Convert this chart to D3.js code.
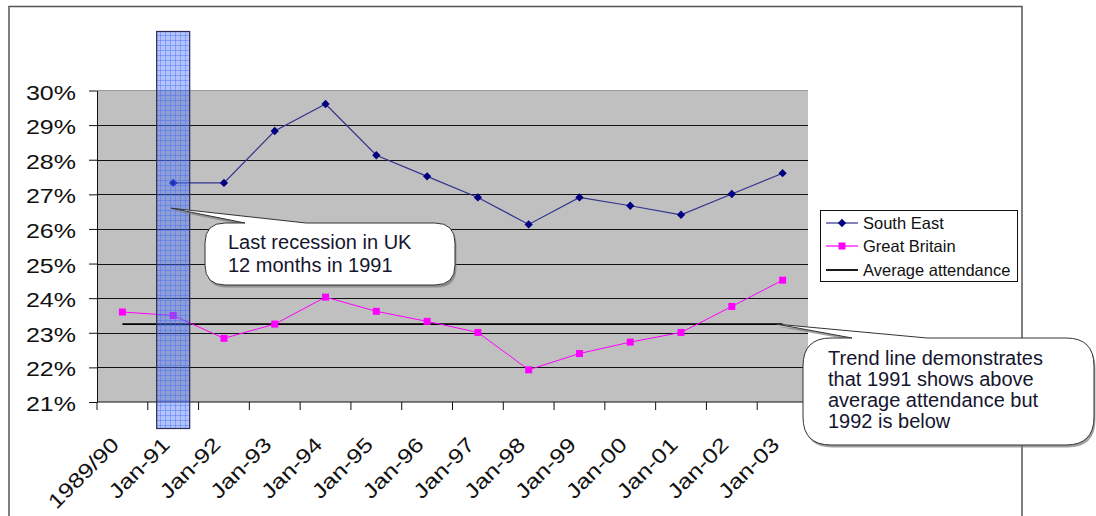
<!DOCTYPE html>
<html>
<head>
<meta charset="utf-8">
<script src="https://cdn.jsdelivr.net/npm/d3@7"></script>
<style>
  html, body { margin: 0; padding: 0; background: #fff; }
  svg { display: block; font-family: "Liberation Sans", Arial, sans-serif; }
</style>
</head>
<body>
<svg id="chart" width="1096" height="516"></svg>
<script>
// Category labels along the x axis
const categories = ["1989/90", "Jan-91", "Jan-92", "Jan-93", "Jan-94", "Jan-95", "Jan-96",
  "Jan-97", "Jan-98", "Jan-99", "Jan-00", "Jan-01", "Jan-02", "Jan-03"];

// Attendance share (%) per period
const southEast = [null, 27.33, 27.33, 28.83, 29.61, 28.13, 27.52, 26.91, 26.13, 26.91, 26.67, 26.41, 27.01, 27.61];
const greatBritain = [23.6, 23.5, 22.84, 23.25, 24.03, 23.62, 23.33, 23.01, 21.93, 22.4, 22.73, 23.01, 23.76, 24.52];
const averageAttendance = [23.25, 23.25, 23.25, 23.25, 23.25, 23.25, 23.25, 23.25, 23.25, 23.25, 23.25, 23.25, 23.25, 23.25];

// Value axis ticks
const yTicks = [21, 22, 23, 24, 25, 26, 27, 28, 29, 30];

// Recession period highlight
const recessionCategory = "Jan-91";

// Legend entries
const legendLabels = ["South East", "Great Britain", "Average attendance"];

// Callout texts
const recessionNote = ["Last recession in UK", "12 months in 1991"];
const trendNote = ["Trend line demonstrates", "that 1991 shows above", "average attendance but", "1992 is below"];

const svg = d3.select("#chart");

const plot = { left: 97, right: 808, top: 90.5, bottom: 402 };

const x = d3.scaleBand().domain(categories).range([plot.left, plot.right]).padding(0);
const y = d3.scaleLinear().domain([21, 30]).range([plot.bottom, plot.top]);
const cx = c => x(c) + x.bandwidth() / 2;

// Hatched fill for the recession bar
const defs = svg.append("defs");
const pat = defs.append("pattern").attr("id", "smallGrid")
  .attr("patternUnits", "userSpaceOnUse").attr("width", 5).attr("height", 5);
pat.append("rect").attr("width", 5).attr("height", 5).attr("fill", "rgba(75,115,245,0.42)");
pat.append("path").attr("d", "M0 0.5H5M0.5 0V5").attr("stroke", "rgba(60,100,250,0.4)").attr("stroke-width", 1);

// Plot area background
svg.append("rect")
  .attr("x", plot.left).attr("y", plot.top)
  .attr("width", plot.right - plot.left).attr("height", plot.bottom - plot.top)
  .attr("fill", "#c0c0c0");
svg.append("line")
  .attr("x1", plot.left).attr("x2", plot.right)
  .attr("y1", plot.top).attr("y2", plot.top)
  .attr("stroke", "#9a9a9a").attr("stroke-width", 1);

// Horizontal gridlines
svg.append("g").selectAll("line")
  .data(yTicks.filter(t => t > 21 && t < 30))
  .join("line")
  .attr("x1", plot.left).attr("x2", plot.right)
  .attr("y1", d => Math.round(y(d)) + 0.5).attr("y2", d => Math.round(y(d)) + 0.5)
  .attr("stroke", "#111").attr("stroke-width", 1);

// Value axis
const yAxis = svg.append("g")
  .attr("transform", `translate(${plot.left},0)`)
  .call(d3.axisLeft(y).tickValues(yTicks).tickSize(8).tickSizeOuter(0).tickFormat(""));
yAxis.select(".domain").attr("stroke", "#111");
yAxis.selectAll(".tick line").attr("stroke", "#111");

yAxis.selectAll(".tick").append("text")
  .attr("transform", "translate(-21,8.5) scale(1.22,1)")
  .attr("text-anchor", "end")
  .attr("fill", "#111")
  .style("font-size", "20.5px")
  .text(d => d + "%");

// Category axis: ticks sit between categories
const xAxis = svg.append("g");
xAxis.append("line")
  .attr("x1", plot.left).attr("x2", plot.right)
  .attr("y1", plot.bottom).attr("y2", plot.bottom)
  .attr("stroke", "#111");
const boundaries = categories.map(c => x(c)).concat([plot.right]);
xAxis.selectAll("line.tk").data(boundaries).join("line").attr("class", "tk")
  .attr("x1", d => d).attr("x2", d => d)
  .attr("y1", plot.bottom).attr("y2", plot.bottom + 8)
  .attr("stroke", "#111");
xAxis.selectAll("text").data(categories).join("text")
  .attr("transform", d => `translate(${cx(d) - 2},446) rotate(-45) scale(1.22,1)`)
  .attr("text-anchor", "end")
  .attr("fill", "#111")
  .style("font-size", "20.5px")
  .text(d => d);

// Series lines
const lineGen = vals => d3.line()
  .defined(d => d.v != null)
  .x(d => cx(d.c))
  .y(d => y(d.v))(categories.map((c, i) => ({ c, v: vals[i] })));

svg.append("path").attr("d", lineGen(averageAttendance))
  .attr("fill", "none").attr("stroke", "#000").attr("stroke-width", 1.6);

svg.append("path").attr("d", lineGen(greatBritain))
  .attr("fill", "none").attr("stroke", "#ff00ff").attr("stroke-width", 1);
svg.append("g").selectAll("rect")
  .data(categories.map((c, i) => ({ c, v: greatBritain[i] })))
  .join("rect")
  .attr("x", d => cx(d.c) - 3.5).attr("y", d => y(d.v) - 3.5)
  .attr("width", 7).attr("height", 7)
  .attr("fill", "#ff00ff");

svg.append("path").attr("d", lineGen(southEast))
  .attr("fill", "none").attr("stroke", "#33338f").attr("stroke-width", 1.2);
const diamond = d3.symbol().type(d3.symbolDiamond2).size(44);
svg.append("g").selectAll("path")
  .data(categories.map((c, i) => ({ c, v: southEast[i] })).filter(d => d.v != null))
  .join("path")
  .attr("transform", d => `translate(${cx(d.c)},${y(d.v)})`)
  .attr("d", diamond)
  .attr("fill", "#000080");

// Recession highlight bar
const rc = cx(recessionCategory);
const rw = x.bandwidth() * 0.65;
svg.append("rect")
  .attr("x", rc - rw / 2).attr("y", 31.5)
  .attr("width", rw).attr("height", 397)
  .attr("fill", "url(#smallGrid)")
  .attr("stroke", "#2a2a55").attr("stroke-width", 1.2);

// Callout bubbles
function bubble(x0, y0, x1, y1, r, tip, a, b) {
  const p = d3.path();
  p.moveTo(x0 + r, y0);
  p.lineTo(a, y0);
  p.lineTo(tip[0], tip[1]);
  p.lineTo(b, y0);
  p.lineTo(x1 - r, y0);
  p.quadraticCurveTo(x1, y0, x1, y0 + r);
  p.lineTo(x1, y1 - r);
  p.quadraticCurveTo(x1, y1, x1 - r, y1);
  p.lineTo(x0 + r, y1);
  p.quadraticCurveTo(x0, y1, x0, y1 - r);
  p.lineTo(x0, y0 + r);
  p.quadraticCurveTo(x0, y0, x0 + r, y0);
  p.closePath();
  return p.toString();
}

function callout(box, tip, a, b, r, lines, tx, ty0, dy) {
  const g = svg.append("g");
  const d = bubble(box[0], box[1], box[2], box[3], r, tip, a, b);
  g.append("path").attr("d", d).attr("transform", "translate(1.5,2.5)")
    .attr("fill", "#7a7a7a").attr("opacity", 0.7);
  g.append("path").attr("d", d)
    .attr("fill", "#fff").attr("stroke", "#333").attr("stroke-width", 1);
  g.selectAll("text").data(lines).join("text")
    .attr("x", tx).attr("y", (t, i) => ty0 + i * dy)
    .attr("fill", "#15152e")
    .style("font-size", "20px")
    .text(t => t);
}

// Chart frame
svg.append("rect")
  .attr("x", 9).attr("y", 6.5).attr("width", 1013).attr("height", 600)
  .attr("fill", "none").attr("stroke", "#555").attr("stroke-width", 1.5);

callout([205, 223, 455, 285], [rc - 2, y(26.6)], 245, 306, 20, recessionNote, 228, 249, 22.5);
callout([803, 338, 1094, 445], [cx("Jan-03") - 6, y(averageAttendance[13])], 852, 927, 28, trendNote, 828, 365, 21);

// Legend
const legend = svg.append("g");
legend.append("rect")
  .attr("x", 820.5).attr("y", 210.5).attr("width", 197).attr("height", 71)
  .attr("fill", "#fff").attr("stroke", "#111").attr("stroke-width", 1);
const rows = [223, 246, 270];
const colors = ["#33338f", "#ff00ff", "#000"];
legendLabels.forEach((lbl, i) => {
  legend.append("line")
    .attr("x1", 826).attr("x2", 858).attr("y1", rows[i]).attr("y2", rows[i])
    .attr("stroke", colors[i]).attr("stroke-width", i === 2 ? 1.8 : 1.2);
  if (i === 0) {
    legend.append("path").attr("transform", `translate(842,${rows[i]})`)
      .attr("d", diamond).attr("fill", "#000080");
  } else if (i === 1) {
    legend.append("rect").attr("x", 838.5).attr("y", rows[i] - 3.5)
      .attr("width", 7).attr("height", 7).attr("fill", "#ff00ff");
  }
  legend.append("text")
    .attr("x", 863).attr("y", rows[i]).attr("dy", "0.36em")
    .attr("fill", "#111")
    .style("font-size", "16.5px")
    .text(lbl);
});
</script>
</body>
</html>
